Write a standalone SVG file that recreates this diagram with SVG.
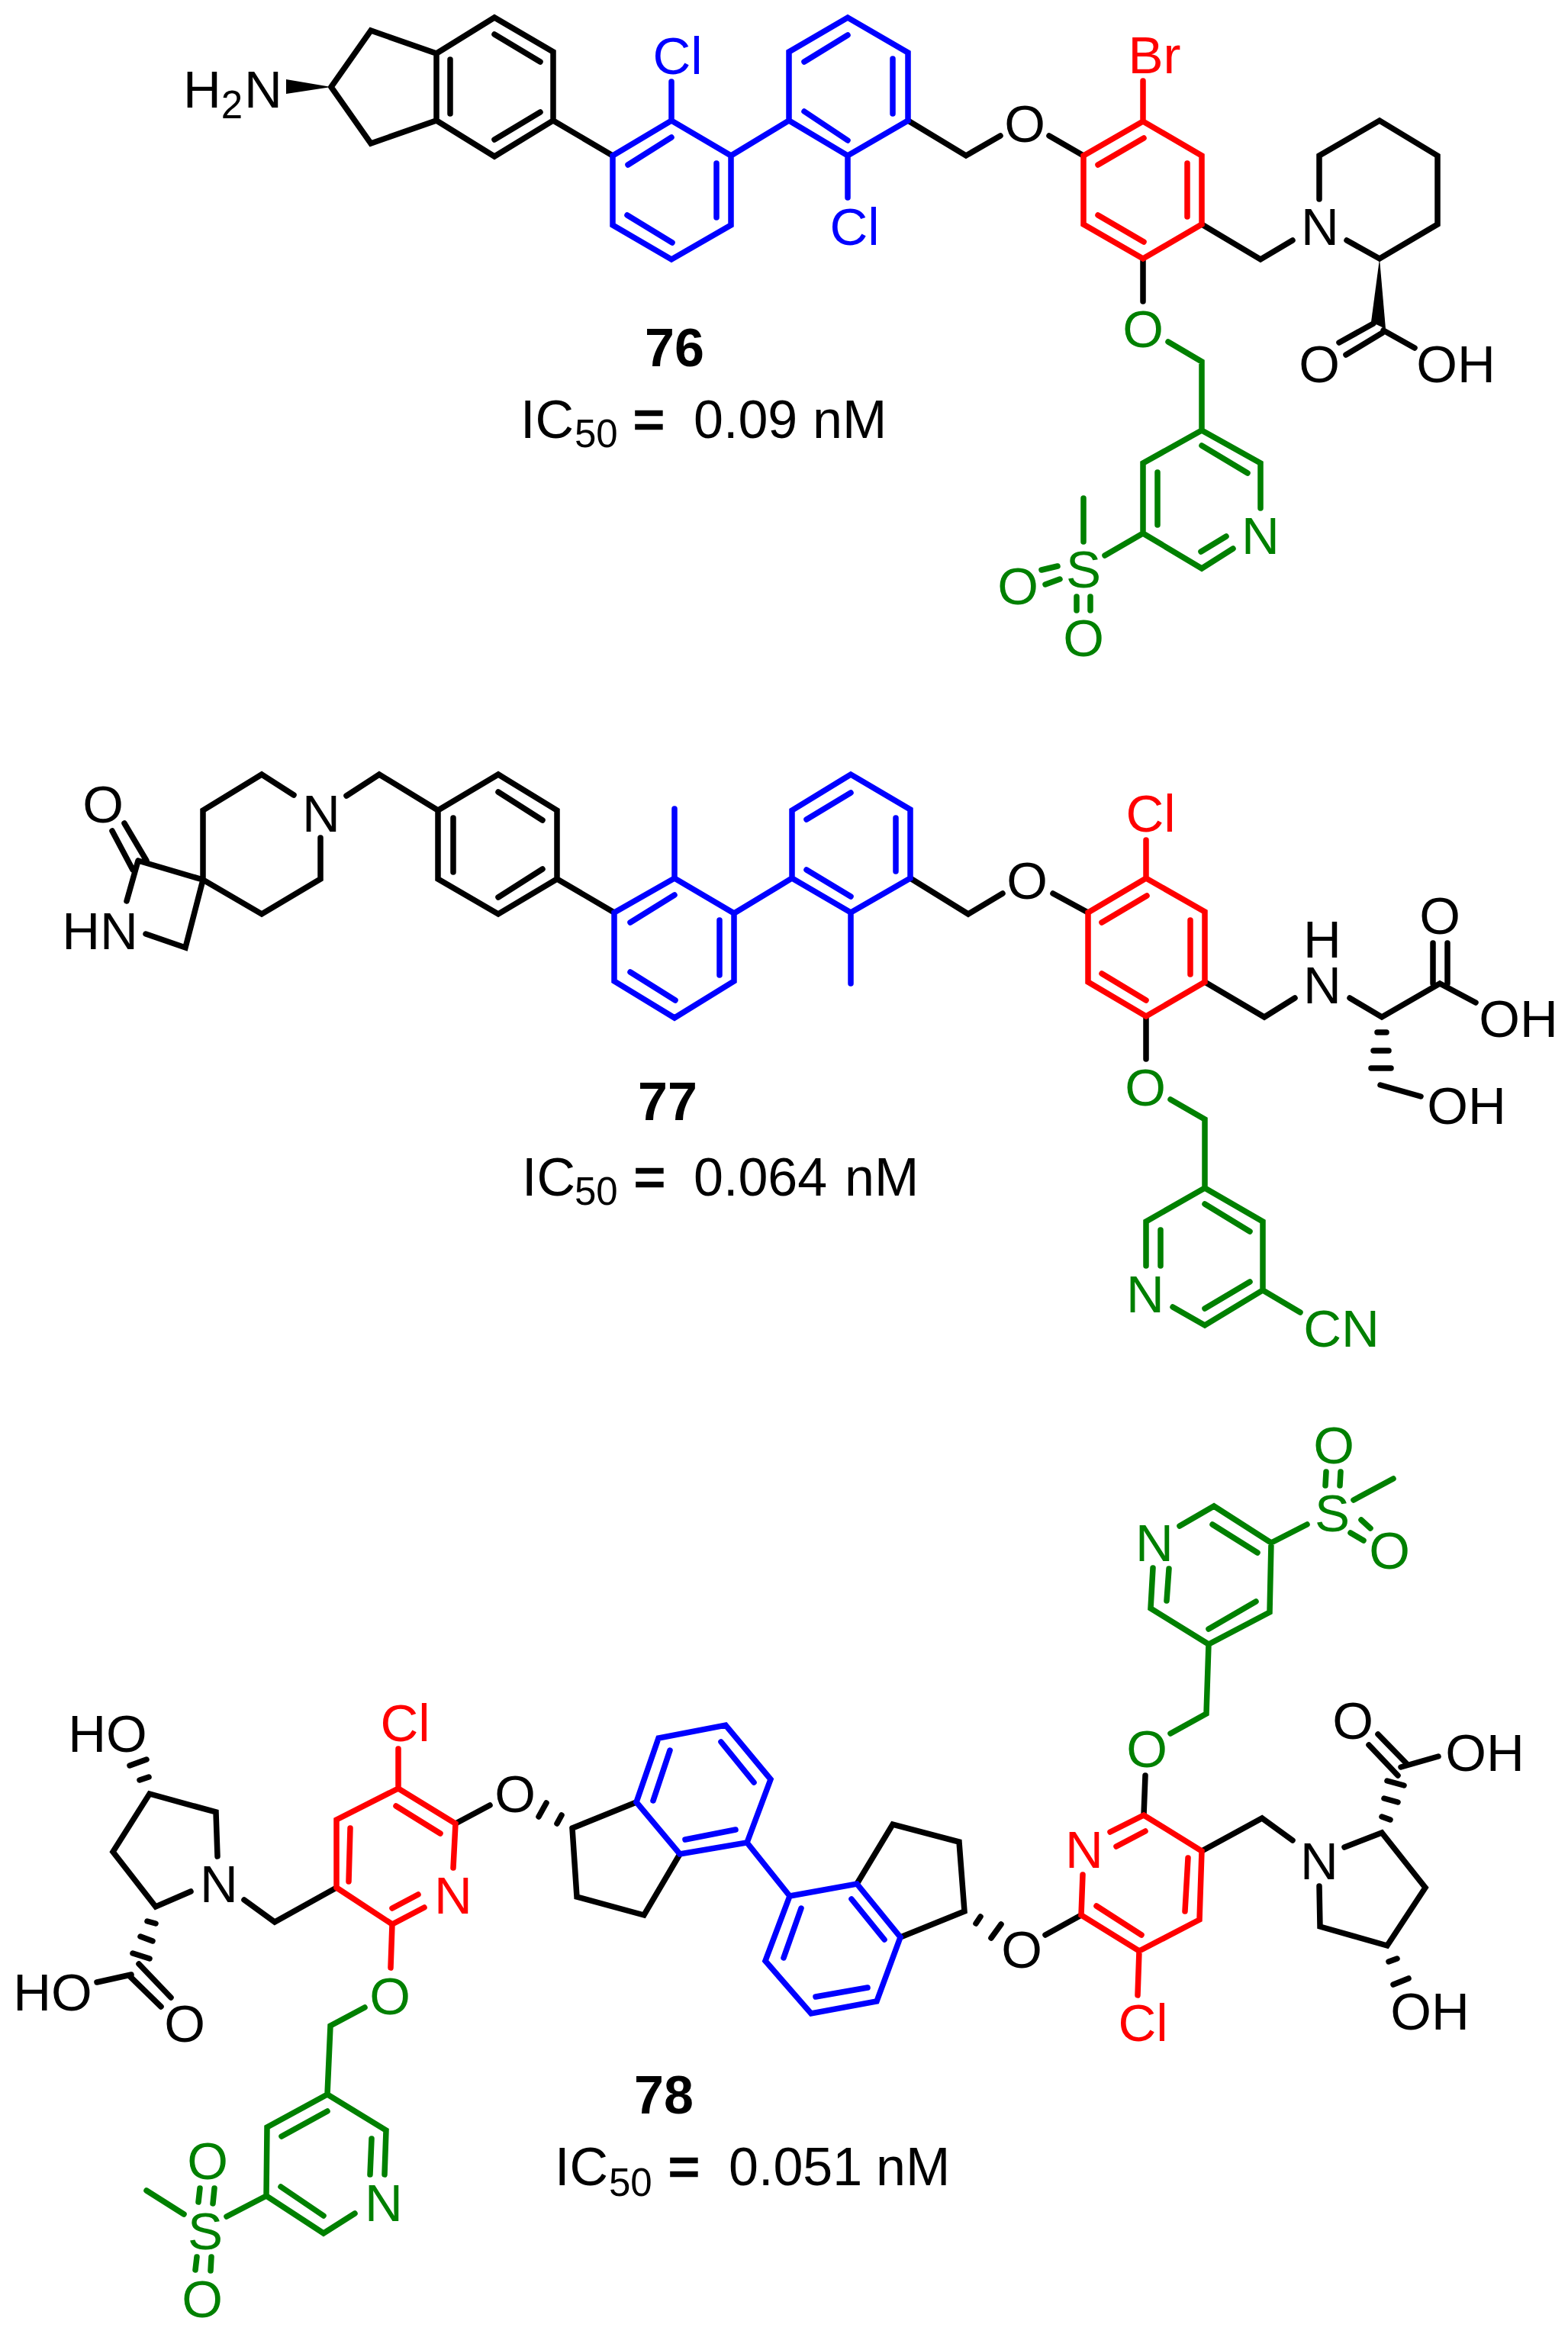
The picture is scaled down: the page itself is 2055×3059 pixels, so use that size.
<svg xmlns="http://www.w3.org/2000/svg" width="2055" height="3059" viewBox="0 0 2055 3059">
<style>
text{font-family:"Liberation Sans",Arial,sans-serif;font-size:69px;text-anchor:middle}
.k{fill:#000}.b{fill:#0000ff}.r{fill:#ff0000}.g{fill:#008000}
.l{text-anchor:start;font-size:70px}.n{font-weight:bold;font-size:70px}.s{font-size:51px}
.e{stroke:#000;stroke-width:2.5}
path{fill:none;stroke-width:7.5;stroke-linecap:round;stroke-linejoin:miter}
.sk{stroke:#000}.sb{stroke:#0000ff}.sr{stroke:#ff0000}.sg{stroke:#008000}
.w{fill:#000;stroke:none}
</style>
<rect width="2055" height="3059" fill="#fff"/>
<g id="connectors">
<g id="bonds-76">
<path class="sk" d="M434 114L486 40L572 70L648 23L725 68V158L648 205L572 158L486 188L434 114M572 70V158M590 78V149M648 45L708 81M708 147L648 183M725 158L803 204M1190 158L1266 204L1311 178M1375 178L1420 204M1575 294L1652 340L1694 315M1765 315L1808 339L1884 294V204L1808 158L1729 204V261M1813 433L1854 456M1800 424L1755 449M1812 436L1764 465M1498 339V395"/>
<path class="sb" d="M803 204L880 158L958 204V295L880 340L803 295ZM823 216L880 180M939 214V285M881 318L822 282M880 107V158M958 204L1034 158V68L1111 23L1190 69V158L1111 204L1034 158M1054 81L1111 46M1170 77V149M1054 146L1111 184M1111 204V259"/>
<path class="sr" d="M1420 204L1498 159L1575 204V294L1498 339L1420 294ZM1439 216L1499 181M1556 214V284M1499 317L1439 282M1498 106V159"/>
<path class="sg" d="M1531 448L1575 474V564L1652 607V666M1616 719L1575 745L1498 699V607L1575 564M1575 584L1635 620M1517 619V688M1574 723L1607 703M1498 699L1448 728M1420 710V653M1386 742L1365 747M1389 759L1370 766M1411 782V800M1429 782V800"/>
<polygon class="w" points="434,114 375,104 375,123"/>
<polygon class="w" points="1808,339 1797,422 1816,431"/>
</g>
<g id="bonds-77">
<path class="sk" d="M147 1089L174 1140M163 1079L192 1128M181 1128L266 1153M181 1128L166 1181M191 1224L243 1242L266 1153V1062L343 1015L385 1042M420 1098V1152L343 1198L266 1153M454 1043L497 1015L574 1062M574 1062L653 1015L730 1062V1152L653 1198L574 1152ZM594 1072V1143M653 1038L711 1075M711 1139L653 1176M730 1152L805 1196M1193 1151L1269 1198L1314 1171M1380 1171L1426 1196M1579 1287L1657 1333L1697 1308M1769 1308L1811 1333L1887 1289L1934 1314M1878 1289V1236M1897 1289V1236M1805 1353H1817M1800 1377H1820M1797 1400H1823M1809 1422L1862 1437M1502 1332V1388"/>
<path class="sb" d="M805 1196L884 1151L962 1197V1286L884 1334L805 1286ZM826 1209L884 1173M943 1206V1278M885 1311L826 1274M884 1151V1060M962 1197L1038 1151V1062L1115 1015L1193 1061V1151L1115 1196L1038 1151M1057 1074L1115 1039M1174 1072V1142M1057 1140L1115 1175M1115 1196V1289"/>
<path class="sr" d="M1426 1196L1502 1151L1579 1195V1287L1502 1332L1426 1287ZM1444 1209L1503 1174M1560 1206V1277M1502 1311L1444 1276M1502 1101V1151"/>
<path class="sg" d="M1534 1441L1579 1467V1557L1655 1601V1691L1579 1737L1537 1713M1502 1659V1601L1579 1557M1579 1578L1638 1614M1521 1612V1659M1638 1680L1579 1715M1655 1691L1704 1720"/>
</g>
<g id="bonds-78">
<path class="sk" d="M170 2314L192 2306M183 2333L195 2329M285 2433L283 2375L196 2351L148 2427L204 2499L250 2479M320 2490L360 2519L441 2474M597 2390L642 2366M716 2363L706 2381M736 2379L730 2390M750 2396L756 2486L844 2510L891 2430M834 2362L750 2396M193 2518L204 2521M184 2538L200 2544M174 2560L196 2567M172 2588L127 2598M182 2574L224 2618M170 2590L211 2630M1123 2469L1170 2391L1257 2414L1264 2505L1180 2539M1285 2512L1279 2521M1312 2522L1299 2540M1370 2536L1417 2510M1575 2426L1654 2383L1694 2412M1729 2472L1730 2525L1818 2550L1868 2474L1811 2402L1762 2421M1820 2571L1831 2567M1826 2601L1846 2593M1811 2381L1822 2385M1814 2357L1832 2362M1818 2334L1840 2340M1836 2316L1885 2302M1845 2313L1806 2273M1832 2327L1794 2287M1499 2379L1501 2327"/>
<path class="sb" d="M834 2362L863 2278L951 2261L1010 2332L979 2415L891 2430ZM856 2360L878 2294M945 2283L988 2336M964 2398L898 2411M979 2415L1035 2485M1035 2485L1123 2469L1180 2539L1149 2623L1063 2639L1003 2570ZM1050 2501L1027 2566M1116 2489L1159 2542M1137 2605L1069 2617"/>
<path class="sr" d="M441 2474V2385L522 2344L597 2390L594 2448M556 2500L514 2522L441 2474M459 2396L457 2466M519 2367L577 2403M514 2501L548 2483M522 2292V2344M514 2522L512 2579M1419 2457L1417 2510L1493 2557L1572 2516L1575 2426L1499 2379L1455 2401M1463 2420L1501 2400M1557 2435L1553 2505M1496 2536L1437 2498M1493 2557L1491 2615"/>
<path class="sg" d="M478 2631L433 2655L429 2745L506 2792L504 2850M487 2803L485 2850M465 2901L424 2927L349 2878L350 2788L429 2745M424 2904L368 2866M369 2800L429 2767M349 2878L297 2905M241 2902L192 2871M262 2868L260 2886M281 2868L279 2888M258 2958L256 2975M277 2958L276 2976M1534 2272L1581 2246L1584 2155L1664 2113L1666 2022L1591 1974L1546 2000M1511 2055L1508 2108L1584 2155M1584 2135L1646 2099M1532 2056L1529 2098M1589 1998L1648 2035M1666 2022L1713 1998M1774 1966L1826 1938M1738 1929L1737 1947M1757 1929L1756 1947M1784 1992L1796 2003M1770 2009L1787 2019"/>
</g>
</g>
<g id="compound-76">
<text class="k" x="265" y="141">H</text>
<text class="k s" x="304" y="155">2</text>
<text class="k" x="345" y="141">N</text>
<text class="b" x="888" y="97">Cl</text>
<text class="b" x="1120" y="321">Cl</text>
<text class="k" x="1343" y="186">O</text>
<text class="r" x="1513" y="96">Br</text>
<text class="k" x="1730" y="321">N</text>
<text class="k" x="1729" y="501">O</text>
<text class="k" x="1908" y="501">OH</text>
<text class="g" x="1498" y="455">O</text>
<text class="g" x="1652" y="726">N</text>
<text class="g" x="1420" y="770">S</text>
<text class="g" x="1334" y="792">O</text>
<text class="g" x="1420" y="860">O</text>
<text class="k n" x="884" y="480">76</text>
<text class="k l" x="682" y="574">IC</text>
<text class="k l s" x="753" y="586">50</text>
<text class="k l e" x="830" y="574">=</text>
<text class="k l" x="909" y="574">0.09</text>
<text class="k l" x="1065" y="574">nM</text>
</g>
<g id="compound-77">
<text class="k" x="135" y="1078">O</text>
<text class="k" x="131" y="1244">HN</text>
<text class="k" x="421" y="1090">N</text>
<text class="r" x="1508" y="1090">Cl</text>
<text class="k" x="1346" y="1178">O</text>
<text class="k" x="1733" y="1255">H</text>
<text class="k" x="1733" y="1315">N</text>
<text class="k" x="1887" y="1224">O</text>
<text class="k" x="1990" y="1359">OH</text>
<text class="k" x="1922" y="1473">OH</text>
<text class="g" x="1501" y="1449">O</text>
<text class="g" x="1501" y="1720">N</text>
<text class="g" x="1758" y="1765">CN</text>
<text class="k n" x="875" y="1468">77</text>
<text class="k l" x="684" y="1567">IC</text>
<text class="k l s" x="753" y="1579">50</text>
<text class="k l e" x="831" y="1567">=</text>
<text class="k l" x="909" y="1567">0.064</text>
<text class="k l" x="1107" y="1567">nM</text>
</g>
<g id="compound-78">
<text class="k" x="141" y="2296">HO</text>
<text class="k" x="287" y="2493">N</text>
<text class="r" x="531" y="2282">Cl</text>
<text class="r" x="594" y="2508">N</text>
<text class="k" x="675" y="2375">O</text>
<text class="k" x="69" y="2635">HO</text>
<text class="k" x="242" y="2676">O</text>
<text class="g" x="511" y="2640">O</text>
<text class="g" x="503" y="2911">N</text>
<text class="g" x="269" y="2948">S</text>
<text class="g" x="272" y="2856">O</text>
<text class="g" x="265" y="3037">O</text>
<text class="k" x="1339" y="2579">O</text>
<text class="r" x="1421" y="2448">N</text>
<text class="r" x="1498" y="2675">Cl</text>
<text class="k" x="1729" y="2463">N</text>
<text class="k" x="1874" y="2660">OH</text>
<text class="k" x="1946" y="2321">OH</text>
<text class="k" x="1773" y="2279">O</text>
<text class="g" x="1503" y="2316">O</text>
<text class="g" x="1513" y="2046">N</text>
<text class="g" x="1746" y="2007">S</text>
<text class="g" x="1748" y="1918">O</text>
<text class="g" x="1821" y="2056">O</text>
<text class="k n" x="870" y="2770">78</text>
<text class="k l" x="727" y="2864">IC</text>
<text class="k l s" x="798" y="2878">50</text>
<text class="k l e" x="876" y="2864">=</text>
<text class="k l" x="955" y="2864">0.051</text>
<text class="k l" x="1148" y="2864">nM</text>
</g>
</svg>
